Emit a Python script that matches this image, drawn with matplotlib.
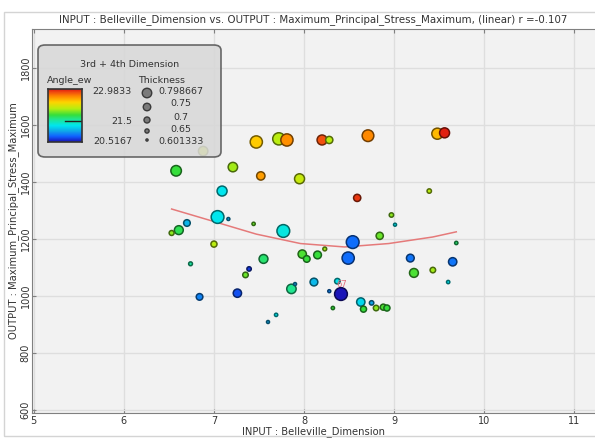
import numpy as np
import matplotlib
matplotlib.use("Agg")
import matplotlib.pyplot as plt
from matplotlib.colors import LinearSegmentedColormap
from matplotlib.patches import FancyBboxPatch, Rectangle

# data
belleville = [7.47, 7.72, 7.81, 8.20, 8.28, 6.88, 6.58, 7.21, 7.52, 7.95,
              7.09, 7.04, 7.16, 7.44, 7.77, 6.70, 6.61, 6.53, 8.71, 9.48,
              9.56, 8.59, 9.39, 8.97, 9.01, 8.54, 8.84, 7.00, 6.74, 7.55,
              7.39, 7.35, 7.98, 8.03, 8.15, 8.23, 6.84, 7.26, 7.86, 7.90,
              8.11, 8.37, 8.28, 8.32, 7.69, 7.60, 9.69, 8.49, 9.18, 9.65,
              9.22, 9.43, 9.60, 8.41, 8.63, 8.75, 8.66, 8.80, 8.88, 8.92]
stress = [1540, 1551, 1547, 1547, 1547, 1508, 1439, 1452, 1421, 1411,
          1368, 1277, 1270, 1253, 1228, 1256, 1231, 1221, 1562, 1569,
          1572, 1344, 1368, 1284, 1250, 1189, 1211, 1182, 1113, 1130,
          1095, 1074, 1147, 1130, 1144, 1165, 997, 1010, 1025, 1042,
          1049, 1052, 1017, 958, 934, 909, 1186, 1133, 1133, 1120,
          1081, 1091, 1049, 1007, 979, 976, 954, 958, 961, 958]
angle_ew = [22.37, 22.05, 22.59, 22.79, 22.05, 22.14, 21.75, 22.00, 22.54, 22.10,
            21.26, 21.26, 21.01, 21.87, 21.31, 21.06, 21.70, 21.95, 22.61, 22.44,
            22.93, 22.86, 22.05, 21.95, 21.26, 20.81, 21.87, 22.05, 21.50, 21.63,
            20.64, 21.87, 21.80, 21.75, 21.75, 22.00, 20.89, 20.71, 21.55, 21.01,
            21.08, 21.26, 20.89, 21.75, 21.26, 21.01, 21.63, 20.81, 20.84, 20.84,
            21.80, 22.00, 21.26, 20.52, 21.21, 21.01, 21.75, 21.95, 21.80, 21.75]
thickness = [0.77, 0.77, 0.77, 0.73, 0.68, 0.72, 0.74, 0.72, 0.70, 0.73,
             0.73, 0.78, 0.605, 0.61, 0.78, 0.67, 0.71, 0.64, 0.76, 0.75,
             0.73, 0.68, 0.63, 0.63, 0.605, 0.78, 0.68, 0.66, 0.62, 0.71,
             0.63, 0.65, 0.70, 0.67, 0.69, 0.62, 0.67, 0.70, 0.72, 0.605,
             0.69, 0.65, 0.605, 0.61, 0.61, 0.605, 0.61, 0.77, 0.69, 0.70,
             0.71, 0.65, 0.61, 0.78, 0.70, 0.63, 0.66, 0.65, 0.66, 0.66]

# quadratic fit curve as drawn in the reference
fit_x = [6.53, 6.98, 7.47, 7.96, 8.45, 8.94, 9.43, 9.69]
fit_y = [1305, 1263, 1217, 1184, 1172, 1184, 1207, 1225]

angle_min, angle_max = 20.5167, 22.9833
thick_min, thick_max = 0.601333, 0.798667
thick_legend_labels = ["0.798667", "0.75", "0.7", "0.65", "0.601333"]

W, H = 595, 440
cmap = LinearSegmentedColormap.from_list("angle", [
    (0.0, "#1a14b8"), (0.1, "#1060ff"), (0.2, "#10a8e8"), (0.3, "#00e6f0"),
    (0.42, "#20e690"), (0.5, "#34de3c"), (0.62, "#b8ee10"), (0.74, "#ffd400"),
    (0.85, "#ff8a00"), (0.93, "#f04a10"), (1.0, "#dc1010")])


def fx(px):
    return px / W


def fy(py):
    return 1 - py / H


fig = plt.figure(figsize=(W / 100, H / 100), dpi=100)
fig.patch.set_facecolor("white")
fig.add_artist(Rectangle((fx(4), fy(436)), fx(595), 1 - fy(436) - 0.027,
                         transform=fig.transFigure, fill=False,
                         edgecolor="#d4d4d4", lw=1))

ax = fig.add_axes([fx(32), fy(413), 1 - fx(32), fy(29) - fy(413)])
ax.set_facecolor("#f2f2f2")
ax.set_xlim(4.98, 11.23)
ax.set_ylim(590, 1936)
ax.set_xticks([5, 6, 7, 8, 9, 10, 11])
ax.set_yticks([600, 800, 1000, 1200, 1400, 1600, 1800])
ax.grid(True, color="#dedede", lw=1)
ax.set_axisbelow(True)
for s in ["left", "bottom", "top"]:
    ax.spines[s].set_color("#808080")
ax.spines["right"].set_visible(False)
ax.tick_params(direction="in", length=3, color="#808080", labelsize=7,
               labelcolor="#333333", top=True, pad=2)
ax.tick_params(axis="y", pad=1)
for lbl in ax.get_yticklabels():
    lbl.set_rotation(90)
    lbl.set_va("center")

ax.set_title("INPUT : Belleville_Dimension vs. OUTPUT : Maximum_Principal_Stress_Maximum, (linear) r =-0.107",
             fontsize=7.4, color="#333333", pad=5)
ax.set_xlabel("INPUT : Belleville_Dimension", fontsize=7.2, color="#333333", labelpad=0)
ax.set_ylabel("OUTPUT : Maximum_Principal_Stress_Maximum", fontsize=7.2, color="#333333", labelpad=1)

ax.plot(fit_x, fit_y, color="#e57a7a", lw=1.1, zorder=2)

frac = (np.array(angle_ew) - angle_min) / (angle_max - angle_min)
faces = cmap(frac)
edges = faces.copy()
edges[:, :3] = faces[:, :3] * 0.45
diam = 2.8 + (np.array(thickness) - thick_min) / (thick_max - thick_min) * 11
sizes = (diam * 0.72) ** 2
ax.scatter(belleville, stress, s=sizes, c=faces, edgecolors=edges, linewidths=1.1, zorder=3)

ax.text(8.42, 1040, "67", fontsize=6, color="#e06a7a", ha="center", va="center", zorder=4)

# "3rd + 4th Dimension" legend box
box = FancyBboxPatch((fx(38), fy(157)), fx(221) - fx(38), fy(45) - fy(157),
                     boxstyle="round,pad=0,rounding_size=0.012",
                     transform=fig.transFigure, facecolor="#d8d8d8", alpha=0.88,
                     edgecolor="#555555", lw=1.2, zorder=10)
fig.add_artist(box)
tk = dict(transform=fig.transFigure, fontsize=6.8, color="#333333", zorder=11)
fig.text(fx(130), fy(64), "3rd + 4th Dimension", ha="center", va="center", **tk)
fig.text(fx(70), fy(80), "Angle_ew", ha="center", va="center", **tk)
fig.text(fx(162), fy(80), "Thickness", ha="center", va="center", **tk)
fig.text(fx(132), fy(92), "%g" % angle_max, ha="right", va="center", **tk)
fig.text(fx(132), fy(121), "21.5", ha="right", va="center", **tk)
fig.text(fx(132), fy(141), "%g" % angle_min, ha="right", va="center", **tk)

cax = fig.add_axes([fx(48), fy(142), fx(82) - fx(48), fy(89) - fy(142)], zorder=12)
grad = np.linspace(1, 0, 100).reshape(-1, 1)
cax.imshow(grad, aspect="auto", cmap=cmap, extent=[0, 1, 0, 1])
cax.set_xticks([])
cax.set_yticks([])
for s in cax.spines.values():
    s.set_color("#333333")
    s.set_linewidth(1.2)
mark = (21.5 - angle_min) / (angle_max - angle_min)
cax.plot([0.5, 1], [mark, mark], color="#222222", lw=1)
cax.set_xlim(0, 1)
cax.set_ylim(0, 1)

leg_y = [93, 107, 120, 131, 140]
leg_lbl_y = [92, 104, 117, 129, 141]
leg_d = [9.5, 7.5, 6, 4.2, 2.2]
lax = fig.add_axes([0, 0, 1, 1], zorder=13)
lax.set_xlim(0, W)
lax.set_ylim(H, 0)
lax.axis("off")
lax.scatter([147] * len(leg_y), leg_y, s=[(d * 0.72) ** 2 for d in leg_d],
            c="#7a7a7a", edgecolors="#3a3a3a", linewidths=1)
for yy, lbl in zip(leg_lbl_y, thick_legend_labels):
    lax.text(181, yy, lbl, ha="center", va="center", fontsize=6.8, color="#333333")

fig.savefig("out.png", dpi=100)
